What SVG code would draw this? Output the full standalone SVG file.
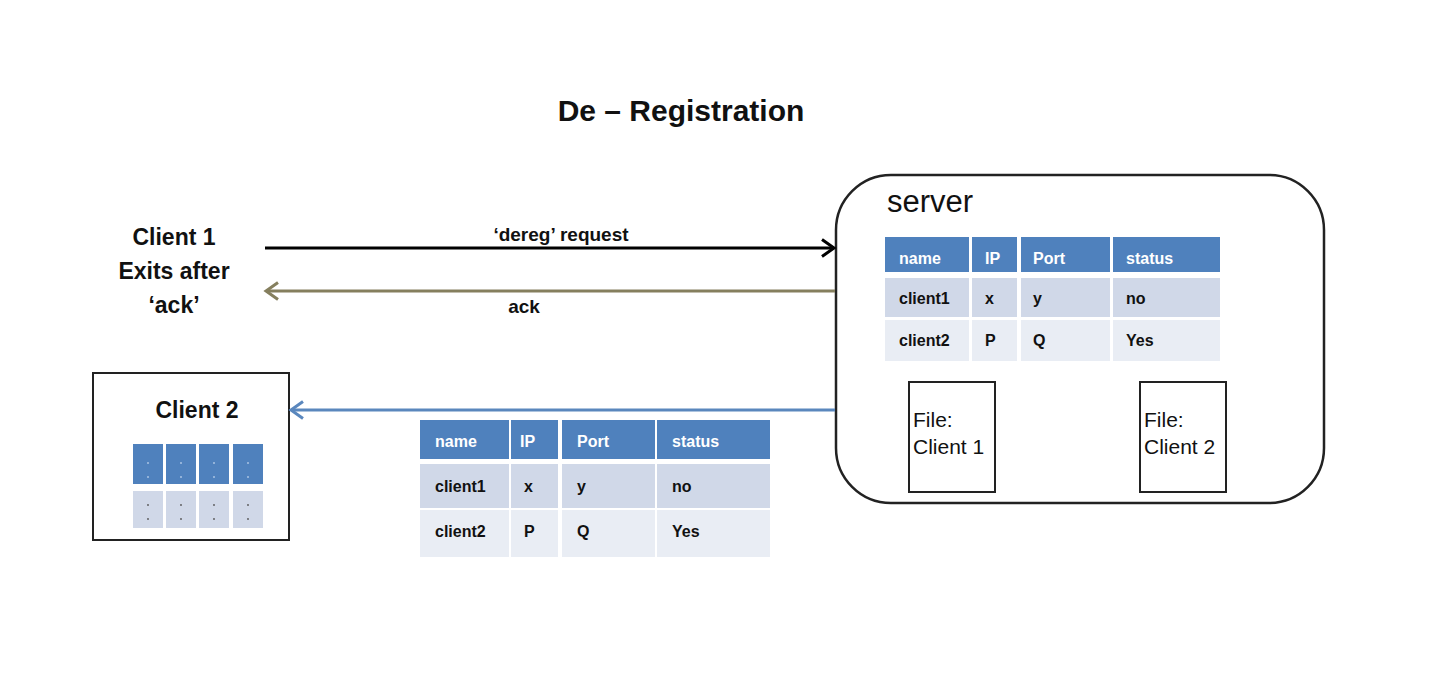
<svg xmlns="http://www.w3.org/2000/svg" width="1456" height="698" viewBox="0 0 1456 698">
<defs>
<style>
text{font-family:"Liberation Sans",Arial,sans-serif;fill:#111}
.title{font-size:30px;font-weight:bold}
.lbl{font-size:23px;font-weight:bold}
.arr{font-size:19px;font-weight:bold}
.hd{fill:#4f81bd}
.r1{fill:#d0d8e8}
.r2{fill:#e9edf4}
.th{font-size:16px;font-weight:bold;fill:#ffffff}
.td{font-size:16px;font-weight:bold;fill:#111}
.box{fill:#ffffff;stroke:#222;stroke-width:2}
.file{font-size:21px}
</style>
<marker id="mBlack" markerWidth="18" markerHeight="22" refX="15" refY="11" orient="auto" markerUnits="userSpaceOnUse">
<path d="M3,2.5 L15,11 L3,19.5" fill="none" stroke="#000" stroke-width="3"/>
</marker>
<marker id="mOlive" markerWidth="18" markerHeight="22" refX="15" refY="11" orient="auto" markerUnits="userSpaceOnUse">
<path d="M3,2.5 L15,11 L3,19.5" fill="none" stroke="#857f5e" stroke-width="3"/>
</marker>
<marker id="mBlue" markerWidth="18" markerHeight="22" refX="15" refY="11" orient="auto" markerUnits="userSpaceOnUse">
<path d="M3,2.5 L15,11 L3,19.5" fill="none" stroke="#5a87bd" stroke-width="3"/>
</marker>
</defs>
<rect width="1456" height="698" fill="#ffffff"/>

<text class="title" x="681" y="121" text-anchor="middle">De – Registration</text>

<g id="client1">
<text class="lbl" x="174" y="245" text-anchor="middle">Client 1</text>
<text class="lbl" x="174" y="279" text-anchor="middle">Exits after</text>
<text class="lbl" x="174" y="313" text-anchor="middle">‘ack’</text>
</g>

<g id="server">
<rect x="836" y="175" width="488" height="328" rx="55" ry="55" fill="#ffffff" stroke="#222" stroke-width="2.5"/>
<text x="887" y="212" style="font-size:31px">server</text>
<g id="server-table">
<rect class="hd" x="885" y="237" width="84" height="35"/>
<rect class="hd" x="972" y="237" width="45" height="35"/>
<rect class="hd" x="1021" y="237" width="89" height="35"/>
<rect class="hd" x="1113" y="237" width="107" height="35"/>
<rect class="r1" x="885" y="278" width="84" height="39"/>
<rect class="r1" x="972" y="278" width="45" height="39"/>
<rect class="r1" x="1021" y="278" width="89" height="39"/>
<rect class="r1" x="1113" y="278" width="107" height="39"/>
<rect class="r2" x="885" y="320" width="84" height="41"/>
<rect class="r2" x="972" y="320" width="45" height="41"/>
<rect class="r2" x="1021" y="320" width="89" height="41"/>
<rect class="r2" x="1113" y="320" width="107" height="41"/>
<text class="th" x="899" y="264">name</text>
<text class="th" x="985" y="264">IP</text>
<text class="th" x="1033" y="264">Port</text>
<text class="th" x="1126" y="264">status</text>
<text class="td" x="899" y="304">client1</text>
<text class="td" x="985" y="304">x</text>
<text class="td" x="1033" y="304">y</text>
<text class="td" x="1126" y="304">no</text>
<text class="td" x="899" y="346">client2</text>
<text class="td" x="985" y="346">P</text>
<text class="td" x="1033" y="346">Q</text>
<text class="td" x="1126" y="346">Yes</text>
</g>
<g id="file1">
<rect class="box" x="909" y="382" width="86" height="110"/>
<text class="file" x="913" y="427">File:</text>
<text class="file" x="913" y="454">Client 1</text>
</g>
<g id="file2">
<rect class="box" x="1140" y="382" width="86" height="110"/>
<text class="file" x="1144" y="427">File:</text>
<text class="file" x="1144" y="454">Client 2</text>
</g>
</g>

<g id="client2">
<rect x="93" y="373" width="196" height="167" fill="#ffffff" stroke="#222" stroke-width="2"/>
<text class="lbl" x="197" y="418" text-anchor="middle">Client 2</text>
<rect class="hd" x="133" y="444" width="30" height="40"/>
<rect class="hd" x="166" y="444" width="30" height="40"/>
<rect class="hd" x="199" y="444" width="30" height="40"/>
<rect class="hd" x="233" y="444" width="30" height="40"/>
<rect class="r1" x="133" y="491" width="30" height="37"/>
<rect class="r1" x="166" y="491" width="30" height="37"/>
<rect class="r1" x="199" y="491" width="30" height="37"/>
<rect class="r1" x="233" y="491" width="30" height="37"/>
<g fill="#a9c3e3">
<circle cx="148" cy="463" r="1"/><circle cx="148" cy="477" r="1"/>
<circle cx="181" cy="463" r="1"/><circle cx="181" cy="477" r="1"/>
<circle cx="214" cy="463" r="1"/><circle cx="214" cy="477" r="1"/>
<circle cx="248" cy="463" r="1"/><circle cx="248" cy="477" r="1"/>
</g>
<g fill="#555">
<circle cx="148" cy="505" r="0.9"/><circle cx="148" cy="519" r="0.9"/>
<circle cx="181" cy="505" r="0.9"/><circle cx="181" cy="519" r="0.9"/>
<circle cx="214" cy="505" r="0.9"/><circle cx="214" cy="519" r="0.9"/>
<circle cx="248" cy="505" r="0.9"/><circle cx="248" cy="519" r="0.9"/>
</g>
</g>

<g id="sent-table">
<rect class="hd" x="420" y="420" width="89" height="39"/>
<rect class="hd" x="511" y="420" width="47" height="39"/>
<rect class="hd" x="562" y="420" width="93" height="39"/>
<rect class="hd" x="657" y="420" width="113" height="39"/>
<rect class="r1" x="420" y="464" width="89" height="44"/>
<rect class="r1" x="511" y="464" width="47" height="44"/>
<rect class="r1" x="562" y="464" width="93" height="44"/>
<rect class="r1" x="657" y="464" width="113" height="44"/>
<rect class="r2" x="420" y="510" width="89" height="47"/>
<rect class="r2" x="511" y="510" width="47" height="47"/>
<rect class="r2" x="562" y="510" width="93" height="47"/>
<rect class="r2" x="657" y="510" width="113" height="47"/>
<text class="th" x="435" y="447">name</text>
<text class="th" x="520" y="447">IP</text>
<text class="th" x="577" y="447">Port</text>
<text class="th" x="672" y="447">status</text>
<text class="td" x="435" y="492">client1</text>
<text class="td" x="524" y="492">x</text>
<text class="td" x="577" y="492">y</text>
<text class="td" x="672" y="492">no</text>
<text class="td" x="435" y="537">client2</text>
<text class="td" x="524" y="537">P</text>
<text class="td" x="577" y="537">Q</text>
<text class="td" x="672" y="537">Yes</text>
</g>

<g id="connectors">
<line x1="265" y1="248" x2="834" y2="248" stroke="#000" stroke-width="3" marker-end="url(#mBlack)"/>
<line x1="835" y1="291" x2="266" y2="291" stroke="#857f5e" stroke-width="3" marker-end="url(#mOlive)"/>
<line x1="835" y1="410" x2="291" y2="410" stroke="#5a87bd" stroke-width="3" marker-end="url(#mBlue)"/>
<text class="arr" x="561" y="241" text-anchor="middle">‘dereg’ request</text>
<text class="arr" x="524" y="313" text-anchor="middle">ack</text>
</g>
</svg>
